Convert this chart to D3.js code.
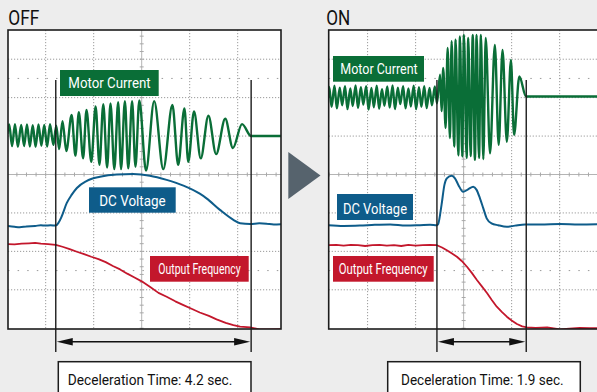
<!DOCTYPE html>
<html><head><meta charset="utf-8">
<script src="https://cdn.jsdelivr.net/npm/d3@7"></script>
<style>html,body{margin:0;padding:0;background:#ededed;overflow:hidden}svg{display:block}</style>
</head><body><svg id="c" width="597" height="392"></svg>
<script>
// ---------------- DATA (time in s = divisions, value in divisions) ----------------
const panelTitles = ["OFF", "ON"];
const seriesNames = ["Motor Current", "DC Voltage", "Output Frequency"];
const decelTimes = [4.2, 1.9];
const offCursors = [-1.79, 2.28];
const onCursors = [-0.556, 1.304];

const offCurrent = [
  [-2.80,1.05],[-2.76,1.30],[-2.70,0.74],[-2.64,1.31],[-2.58,0.72],[-2.51,1.29],[-2.45,0.74],[-2.39,1.30],
  [-2.33,0.73],[-2.27,1.28],[-2.21,0.72],[-2.15,1.30],[-2.09,0.75],[-2.03,1.29],[-1.97,0.73],[-1.91,1.31],
  [-1.84,0.77],[-1.78,1.27],[-1.72,0.66],[-1.65,1.39],[-1.57,0.61],[-1.46,1.55],[-1.38,0.49],[-1.31,1.62],
  [-1.22,0.42],[-1.15,1.68],[-1.05,0.33],[-0.96,1.77],[-0.88,0.25],[-0.80,1.83],[-0.72,0.18],[-0.65,1.85],
  [-0.57,0.14],[-0.49,1.88],[-0.43,0.14],[-0.35,1.91],[-0.28,0.16],[-0.20,1.91],[-0.13,0.20],[-0.05,1.93],
  [0.09,0.10],[0.26,1.91],[0.45,0.14],[0.64,1.81],[0.76,0.25],[0.89,1.72],[0.97,0.33],[1.09,1.64],
  [1.23,0.42],[1.39,1.53],[1.55,0.53],[1.74,1.45],[1.90,0.69],[2.09,1.31],[2.28,1.00],[2.92,1.00]
];
const offVoltage = [
  [-2.80,-1.34],[-2.65,-1.36],[-2.54,-1.37],[-2.40,-1.35],[-2.22,-1.34],[-2.10,-1.32],[-2.01,-1.33],
  [-1.90,-1.32],[-1.79,-1.33],[-1.73,-1.25],[-1.67,-1.10],[-1.56,-0.74],[-1.46,-0.53],[-1.35,-0.35],
  [-1.15,-0.17],[-0.87,-0.06],[-0.52,0.00],[-0.18,0.01],[0.17,-0.03],[0.52,-0.14],[0.87,-0.29],
  [1.21,-0.50],[1.35,-0.62],[1.63,-0.92],[1.91,-1.18],[2.05,-1.27],[2.26,-1.29],[2.45,-1.27],
  [2.60,-1.28],[2.75,-1.30],[2.92,-1.29]
];
const offFrequency = [
  [-2.80,-1.81],[-2.65,-1.82],[-2.50,-1.80],[-2.35,-1.79],[-2.22,-1.78],[-2.10,-1.80],[-1.95,-1.81],
  [-1.79,-1.83],[-1.65,-1.88],[-1.50,-1.94],[-1.35,-2.01],[-1.20,-2.07],[-1.05,-2.14],[-0.90,-2.20],
  [-0.75,-2.28],[-0.60,-2.38],[-0.45,-2.47],[-0.30,-2.58],[-0.15,-2.68],[0.00,-2.78],[0.17,-2.92],
  [0.35,-3.08],[0.52,-3.18],[0.70,-3.30],[0.87,-3.40],[1.05,-3.50],[1.21,-3.59],[1.40,-3.68],
  [1.56,-3.77],[1.75,-3.86],[1.91,-3.92],[2.05,-3.96],[2.26,-3.98],[2.45,-4.03],[2.65,-4.03],[2.92,-4.02]
];

const onCurrent = [
  [-2.82,2.00],[-2.80,2.28],[-2.75,1.76],[-2.69,2.31],[-2.64,1.72],[-2.58,2.26],[-2.53,1.80],[-2.47,2.30],
  [-2.42,1.70],[-2.36,2.24],[-2.31,1.78],[-2.25,2.32],[-2.20,1.73],[-2.14,2.27],[-2.09,1.82],[-2.03,2.30],
  [-1.98,1.69],[-1.92,2.25],[-1.87,1.75],[-1.81,2.31],[-1.76,1.71],[-1.70,2.22],[-1.65,1.79],[-1.59,2.29],
  [-1.54,1.74],[-1.48,2.32],[-1.43,1.70],[-1.37,2.26],[-1.32,1.83],[-1.26,2.30],[-1.21,1.72],[-1.15,2.24],
  [-1.10,1.77],[-1.04,2.31],[-0.99,1.70],[-0.93,2.27],[-0.88,1.76],[-0.82,2.30],[-0.77,1.73],[-0.71,2.25],
  [-0.66,1.80],[-0.60,2.29],[-0.556,1.85],
  [-0.49,2.60],[-0.46,1.65],[-0.425,2.77],[-0.375,1.21],[-0.333,3.29],[-0.285,0.95],[-0.25,3.47],
  [-0.196,0.73],[-0.167,3.51],[-0.11,0.50],[-0.077,3.59],[-0.029,0.47],[0.006,3.63],[0.063,0.43],
  [0.096,3.55],[0.146,0.48],[0.19,3.63],[0.235,0.38],[0.27,3.63],[0.32,0.43],[0.36,3.63],[0.41,0.40],
  [0.46,3.55],[0.55,0.55],[0.65,3.37],[0.73,0.77],[0.81,3.24],[0.90,0.85],[0.985,2.98],[1.05,1.03],
  [1.16,2.55],[1.30,2.03],[2.86,2.03]
];
const onVoltage = [
  [-2.82,-1.32],[-2.50,-1.34],[-2.16,-1.33],[-1.85,-1.31],[-1.53,-1.30],[-1.20,-1.33],[-0.91,-1.32],
  [-0.70,-1.31],[-0.556,-1.32],[-0.53,-1.29],[-0.46,-0.79],[-0.40,-0.27],[-0.35,-0.10],[-0.25,-0.03],
  [-0.18,-0.10],[-0.11,-0.27],[-0.01,-0.45],[0.10,-0.38],[0.20,-0.32],[0.27,-0.40],[0.34,-0.62],
  [0.41,-0.88],[0.48,-1.14],[0.58,-1.27],[0.72,-1.32],[0.90,-1.36],[1.07,-1.33],[1.28,-1.30],
  [1.60,-1.30],[2.01,-1.29],[2.40,-1.30],[2.86,-1.29]
];
const onFrequency = [
  [-2.82,-1.84],[-2.65,-1.83],[-2.50,-1.85],[-2.35,-1.83],[-2.20,-1.84],[-2.05,-1.86],[-1.90,-1.84],
  [-1.75,-1.83],[-1.60,-1.85],[-1.45,-1.84],[-1.30,-1.86],[-1.15,-1.83],[-1.00,-1.85],[-0.85,-1.84],
  [-0.70,-1.83],[-0.556,-1.84],[-0.45,-1.90],[-0.35,-1.97],[-0.25,-2.05],[-0.14,-2.14],[-0.04,-2.25],
  [0.07,-2.40],[0.17,-2.56],[0.28,-2.75],[0.38,-2.91],[0.49,-3.09],[0.59,-3.27],[0.69,-3.44],
  [0.80,-3.58],[0.90,-3.70],[1.00,-3.80],[1.11,-3.89],[1.22,-3.95],[1.32,-3.98],[1.50,-3.99],
  [1.74,-3.98],[2.01,-4.03],[2.20,-4.01],[2.42,-3.99],[2.62,-4.00],[2.86,-4.00]
];

const gridT = [-2, -1, 1, 2];
const gridV = [-3, -2, -1, 1, 2, 3];
const sparseV = [-2.5, 2.5];

// ---------------- LAYOUT ----------------
const colors = { cur: "#0a6e37", dc: "#0e5c8a", fr: "#c3172c", bg: "#ededed" };
const vDomain = [-4.02, 3.76];
const FONT = "Roboto, 'Liberation Sans', sans-serif";

const panels = [
  { title: panelTitles[0], titleX: 8.3, titleW: 31, cur: offCurrent, dc: offVoltage, fr: offFrequency,
    cursors: offCursors, time: decelTimes[0], x0: 8, x1: 281, tDom: [-2.785, 2.902],
    labels: [
      { name: seriesNames[0], c: colors.cur, r: [60, 70, 98.7, 26], tx: 68.3, ty: 87.6, tw: 82.4, fs: 15 },
      { name: seriesNames[1], c: colors.dc, r: [89, 187.3, 86.7, 25.4], tx: 99.3, ty: 206, tw: 66.4, fs: 15 },
      { name: seriesNames[2], c: colors.fr, r: [150, 256, 98.7, 25.7], tx: 158.3, ty: 273.5, tw: 82.4, fs: 14 }
    ],
    tbox: { x0: 58.3, x1: 251, tx: 67.7, tw: 164.7 } },
  { title: panelTitles[1], titleX: 326.3, titleW: 24, cur: onCurrent, dc: onVoltage, fr: onFrequency,
    cursors: onCursors, time: decelTimes[1], x0: 328.7, x1: 600, tDom: [-2.81, 2.84],
    labels: [
      { name: seriesNames[0], c: colors.cur, r: [333, 56, 91, 25.7], tx: 340.3, ty: 74.3, tw: 77.4, fs: 15 },
      { name: seriesNames[1], c: colors.dc, r: [337, 194, 76, 26], tx: 343, ty: 213.6, tw: 64, fs: 15 },
      { name: seriesNames[2], c: colors.fr, r: [333, 256, 100.7, 25.7], tx: 338.7, ty: 273.5, tw: 89, fs: 14 }
    ],
    tbox: { x0: 387.7, x1: 580.3, tx: 401, tw: 162.7 } }
];
const Y0 = 30, Y1 = 329;

const svg = d3.select("#c");
svg.append("rect").attr("width", 597).attr("height", 392).attr("fill", colors.bg);

// middle arrow
svg.append("path").attr("d", "M288.3,152 L320.5,175.5 L288.3,199 Z").attr("fill", "#56636d");

panels.forEach((p, i) => {
  const x = d3.scaleLinear().domain(p.tDom).range([p.x0, p.x1]);
  const y = d3.scaleLinear().domain(vDomain).range([Y1, Y0]);
  const g = svg.append("g");

  g.append("text").text(p.title).attr("x", p.titleX).attr("y", 25.3)
    .attr("font-family", FONT).attr("font-size", 21).attr("fill", "#111")
    .attr("textLength", p.titleW).attr("lengthAdjust", "spacingAndGlyphs");

  g.append("rect").attr("x", p.x0).attr("y", Y0).attr("width", p.x1 - p.x0).attr("height", Y1 - Y0).attr("fill", "#fff");

  const grid = g.append("g").attr("stroke", "#9a9a9a").attr("stroke-width", 1).attr("fill", "none");
  gridT.forEach(t => grid.append("line").attr("x1", x(t)).attr("x2", x(t)).attr("y1", Y0).attr("y2", Y1)
    .attr("stroke-dasharray", "1.2,1.8"));
  gridV.forEach(v => grid.append("line").attr("x1", p.x0).attr("x2", p.x1).attr("y1", y(v)).attr("y2", y(v))
    .attr("stroke-dasharray", "1.2,1.8"));
  sparseV.forEach(v => grid.append("line").attr("x1", p.x0).attr("x2", p.x1).attr("y1", y(v)).attr("y2", y(v))
    .attr("stroke-dasharray", "1.5,8.1"));
  // center lines with ticks
  grid.append("line").attr("x1", x(0)).attr("x2", x(0)).attr("y1", Y0).attr("y2", Y1).attr("stroke", "#b4b4b4");
  grid.append("line").attr("x1", p.x0).attr("x2", p.x1).attr("y1", y(0)).attr("y2", y(0)).attr("stroke", "#b4b4b4");
  const tt = d3.range(Math.ceil(p.tDom[0] * 5), Math.floor(p.tDom[1] * 5) + 1).map(k => k / 5);
  tt.forEach(t => grid.append("line").attr("x1", x(t)).attr("x2", x(t)).attr("y1", y(0) - 2).attr("y2", y(0) + 2).attr("stroke", "#a8a8a8"));
  const vv = d3.range(Math.ceil(vDomain[0] * 5), Math.floor(vDomain[1] * 5) + 1).map(k => k / 5);
  vv.forEach(v => grid.append("line").attr("x1", x(0) - 2).attr("x2", x(0) + 2).attr("y1", y(v)).attr("y2", y(v)).attr("stroke", "#a8a8a8"));

  const cid = "clip" + i;
  svg.append("clipPath").attr("id", cid).append("rect").attr("x", p.x0).attr("y", Y0).attr("width", p.x1 - p.x0).attr("height", Y1 - Y0);
  const tr = g.append("g").attr("clip-path", `url(#${cid})`).attr("fill", "none").attr("stroke-linejoin", "round");
  const lineM = d3.line().x(d => x(d[0])).y(d => y(d[1])).curve(d3.curveMonotoneX);
  const lineL = d3.line().x(d => x(d[0])).y(d => y(d[1]));
  tr.append("path").attr("d", lineL(p.fr)).attr("stroke", colors.fr).attr("stroke-width", 1.8);
  tr.append("path").attr("d", lineM(p.dc)).attr("stroke", colors.dc).attr("stroke-width", 2);
  tr.append("path").attr("d", lineM(p.cur)).attr("stroke", colors.cur).attr("stroke-width", 2.4);

  p.labels.forEach(l => {
    g.append("rect").attr("x", l.r[0]).attr("y", l.r[1]).attr("width", l.r[2]).attr("height", l.r[3]).attr("fill", l.c);
    g.append("text").text(l.name).attr("x", l.tx).attr("y", l.ty).attr("fill", "#fff")
      .attr("font-family", FONT).attr("font-size", l.fs)
      .attr("textLength", l.tw).attr("lengthAdjust", "spacingAndGlyphs");
  });

  // border
  g.append("rect").attr("x", p.x0).attr("y", Y0).attr("width", p.x1 - p.x0).attr("height", Y1 - Y0)
    .attr("fill", "none").attr("stroke", "#1c1c1c").attr("stroke-width", 1.6);

  // cursors
  const [ca, cb] = p.cursors.map(x);
  p.cursors.forEach(c => g.append("line").attr("x1", x(c)).attr("x2", x(c)).attr("y1", 80).attr("y2", 352)
    .attr("stroke", "#1c1c1c").attr("stroke-width", 1.4));
  const ay = 341.7;
  g.append("line").attr("x1", ca + 8).attr("x2", cb - 8).attr("y1", ay).attr("y2", ay).attr("stroke", "#111").attr("stroke-width", 1.6);
  g.append("path").attr("d", `M${ca + 1},${ay} L${ca + 17},${ay - 3.8} L${ca + 17},${ay + 3.8} Z`).attr("fill", "#111");
  g.append("path").attr("d", `M${cb - 1},${ay} L${cb - 17},${ay - 3.8} L${cb - 17},${ay + 3.8} Z`).attr("fill", "#111");

  // time label box
  g.append("rect").attr("x", p.tbox.x0).attr("y", 361.7).attr("width", p.tbox.x1 - p.tbox.x0).attr("height", 40)
    .attr("fill", "#fff").attr("stroke", "#1c1c1c").attr("stroke-width", 1.5);
  g.append("text").text(`Deceleration Time: ${p.time} sec.`).attr("x", p.tbox.tx).attr("y", 385.3)
    .attr("font-family", FONT).attr("font-size", 15.5).attr("fill", "#111")
    .attr("textLength", p.tbox.tw).attr("lengthAdjust", "spacingAndGlyphs");
});
</script></body></html>
